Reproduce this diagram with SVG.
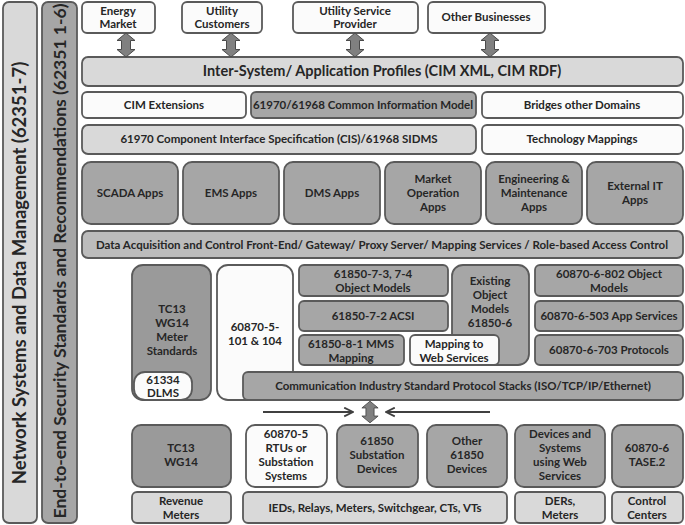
<svg xmlns="http://www.w3.org/2000/svg" width="685" height="525" viewBox="0 0 685 525">
<defs>
<style>
rect{stroke:#5a5a5a;stroke-width:1.8}
.w{fill:#fbfbfb}
.l{fill:#d9d9d9}
.m{fill:#a6a6a6}
.b{fill:#bcbcbc}
.d{fill:#9a9a9a}
text{font-family:Lato,"Liberation Sans",sans-serif;font-weight:bold;fill:#262626;text-anchor:middle;font-size:11.5px}
.big{font-size:14.5px}
.s1{font-size:18.5px}
.s2{font-size:17.5px}
.arr{fill:#808080;stroke:#4a4a4a;stroke-width:1}
.ln{stroke:#404040;stroke-width:2.2;fill:none}
</style>
<marker id="ah" viewBox="0 0 10 10" refX="9" refY="5" markerWidth="5" markerHeight="5" orient="auto"><path d="M1,1 L9,5 L1,9" fill="none" stroke="#404040" stroke-width="1.6"/></marker>
<path id="dbl" d="M0,-12 L9,-4.5 L4.5,-4.5 L4.5,4.5 L9,4.5 L0,12 L-9,4.5 L-4.5,4.5 L-4.5,-4.5 L-9,-4.5 Z"/>
</defs>

<g id="side1"><rect class="l" x="3" y="2" width="34" height="521" rx="6"/><text class="s1" transform="translate(26,273) rotate(-90)">Network Systems and Data Management (62351-7)</text></g>
<g id="side2"><rect class="m" x="42" y="2" width="35" height="521" rx="6"/><text class="s2" transform="translate(66,261) rotate(-90)">End-to-end Security Standards and Recommendations (62351 1-6)</text></g>

<g id="energy"><rect class="w" x="82" y="2" width="73" height="31" rx="5"/><text x="118" y="15">Energy</text><text x="118" y="28">Market</text></g>
<g id="customers"><rect class="w" x="182" y="2" width="80" height="31" rx="5"/><text x="222" y="15">Utility</text><text x="222" y="28">Customers</text></g>
<g id="provider"><rect class="w" x="293" y="2" width="125" height="31" rx="5"/><text x="355" y="15">Utility Service</text><text x="355" y="28">Provider</text></g>
<g id="other"><rect class="w" x="428" y="2" width="117" height="31" rx="5"/><text x="486" y="21">Other Businesses</text></g>

<g id="intersystem"><rect class="l" x="82" y="57" width="601" height="29" rx="6"/><text class="big" x="382" y="76">Inter-System/ Application Profiles (CIM XML, CIM RDF)</text></g>

<g id="cimext"><rect class="w" x="82" y="92" width="164" height="26" rx="5"/><text x="164" y="109">CIM Extensions</text></g>
<g id="cim"><rect class="m" x="251" y="92" width="225" height="26" rx="5"/><text x="363" y="109">61970/61968 Common Information Model</text></g>
<g id="bridges"><rect class="w" x="482" y="92" width="201" height="26" rx="5"/><text x="582" y="109">Bridges other Domains</text></g>

<g id="cis"><rect class="l" x="82" y="125" width="394" height="29" rx="6"/><text x="279" y="143">61970 Component Interface Specification (CIS)/61968 SIDMS</text></g>
<g id="techmap"><rect class="w" x="482" y="125" width="201" height="29" rx="5"/><text x="582" y="143">Technology Mappings</text></g>

<g id="scada"><rect class="m" x="82" y="162" width="96" height="62" rx="9"/><text x="130" y="197">SCADA Apps</text></g>
<g id="ems"><rect class="m" x="183" y="162" width="96" height="62" rx="9"/><text x="231" y="197">EMS Apps</text></g>
<g id="dms"><rect class="m" x="284" y="162" width="96" height="62" rx="9"/><text x="332" y="197">DMS Apps</text></g>
<g id="market"><rect class="m" x="385" y="162" width="96" height="62" rx="9"/><text x="433" y="183">Market</text><text x="433" y="197">Operation</text><text x="433" y="211">Apps</text></g>
<g id="eng"><rect class="m" x="486" y="162" width="96" height="62" rx="9"/><text x="534" y="183">Engineering &amp;</text><text x="534" y="197">Maintenance</text><text x="534" y="211">Apps</text></g>
<g id="extit"><rect class="m" x="587" y="162" width="96" height="62" rx="9"/><text x="635" y="190">External IT</text><text x="635" y="204">Apps</text></g>

<g id="daq"><rect class="b" x="82" y="231" width="601" height="27" rx="6"/><text x="382" y="249">Data Acquisition and Control Front-End/ Gateway/ Proxy Server/ Mapping Services / Role-based Access Control</text></g>

<g id="tc13meter"><rect class="d" x="132" y="265" width="79" height="135" rx="11"/><text x="172" y="313">TC13</text><text x="172" y="327">WG14</text><text x="172" y="341">Meter</text><text x="172" y="355">Standards</text></g>
<g id="dlms"><rect class="w" x="134" y="372" width="58" height="28" rx="11"/><text x="163" y="384">61334</text><text x="163" y="397">DLMS</text></g>
<g id="iec60870-5"><rect class="w" x="217" y="265" width="76" height="135" rx="11"/><text x="255" y="331">60870-5-</text><text x="255" y="345">101 &amp; 104</text></g>
<g id="om7374"><rect class="m" x="299" y="265" width="149" height="31" rx="5"/><text x="373" y="278">61850-7-3, 7-4</text><text x="373" y="292">Object Models</text></g>
<g id="acsi"><rect class="m" x="299" y="301" width="149" height="30" rx="5"/><text x="373" y="320">61850-7-2 ACSI</text></g>
<g id="mms"><rect class="m" x="299" y="335" width="105" height="30" rx="5"/><text x="351" y="348">61850-8-1 MMS</text><text x="351" y="362">Mapping</text></g>
<g id="existing"><rect class="m" x="452" y="265" width="77" height="100" rx="11"/><text x="490" y="285">Existing</text><text x="490" y="299">Object</text><text x="490" y="313">Models</text><text x="490" y="327">61850-6</text></g>
<g id="webmap"><rect class="w" x="410" y="335" width="89" height="30" rx="5"/><text x="454" y="348">Mapping to</text><text x="454" y="362">Web Services</text></g>
<g id="t802"><rect class="m" x="535" y="265" width="148" height="31" rx="5"/><text x="609" y="278">60870-6-802 Object</text><text x="609" y="292">Models</text></g>
<g id="t503"><rect class="m" x="535" y="301" width="148" height="30" rx="5"/><text x="609" y="320">60870-6-503 App Services</text></g>
<g id="t703"><rect class="m" x="535" y="335" width="148" height="30" rx="5"/><text x="609" y="354">60870-6-703 Protocols</text></g>
<g id="comm"><rect class="m" x="243" y="372" width="440" height="28" rx="5"/><text x="463" y="390">Communication Industry Standard Protocol Stacks (ISO/TCP/IP/Ethernet)</text></g>

<g id="tc13"><rect class="d" x="132" y="425" width="99" height="62" rx="9"/><text x="181" y="452">TC13</text><text x="181" y="466">WG14</text></g>
<g id="rtus"><rect class="w" x="246" y="425" width="81" height="62" rx="9"/><text x="286" y="438">60870-5</text><text x="286" y="452">RTUs or</text><text x="286" y="466">Substation</text><text x="286" y="480">Systems</text></g>
<g id="subst"><rect class="m" x="337" y="425" width="81" height="62" rx="9"/><text x="377" y="445">61850</text><text x="377" y="459">Substation</text><text x="377" y="473">Devices</text></g>
<g id="other61850"><rect class="m" x="427" y="425" width="80" height="62" rx="9"/><text x="467" y="445">Other</text><text x="467" y="459">61850</text><text x="467" y="473">Devices</text></g>
<g id="websvc"><rect class="m" x="515" y="425" width="90" height="62" rx="9"/><text x="560" y="438">Devices and</text><text x="560" y="452">Systems</text><text x="560" y="466">using Web</text><text x="560" y="480">Services</text></g>
<g id="tase2"><rect class="m" x="612" y="425" width="71" height="62" rx="9"/><text x="647" y="452">60870-6</text><text x="647" y="466">TASE.2</text></g>

<g id="revenue"><rect class="l" x="132" y="492" width="99" height="31" rx="5"/><text x="181" y="505">Revenue</text><text x="181" y="519">Meters</text></g>
<g id="ieds"><rect class="l" x="243" y="492" width="264" height="31" rx="5"/><text x="375" y="512">IEDs, Relays, Meters, Switchgear, CTs, VTs</text></g>
<g id="ders"><rect class="l" x="515" y="492" width="90" height="31" rx="5"/><text x="560" y="505">DERs,</text><text x="560" y="519">Meters</text></g>
<g id="control"><rect class="l" x="612" y="492" width="71" height="31" rx="5"/><text x="647" y="505">Control</text><text x="647" y="519">Centers</text></g>

<g id="connectors">
<use href="#dbl" class="arr" transform="translate(126,45)"/>
<use href="#dbl" class="arr" transform="translate(231,45)"/>
<use href="#dbl" class="arr" transform="translate(355,45)"/>
<use href="#dbl" class="arr" transform="translate(490,45)"/>
<use href="#dbl" class="arr" transform="translate(370,412) scale(0.9)"/>
<line class="ln" x1="263" y1="412" x2="353" y2="412" marker-end="url(#ah)"/>
<line class="ln" x1="490" y1="412" x2="386" y2="412" marker-end="url(#ah)"/>
</g>
</svg>
